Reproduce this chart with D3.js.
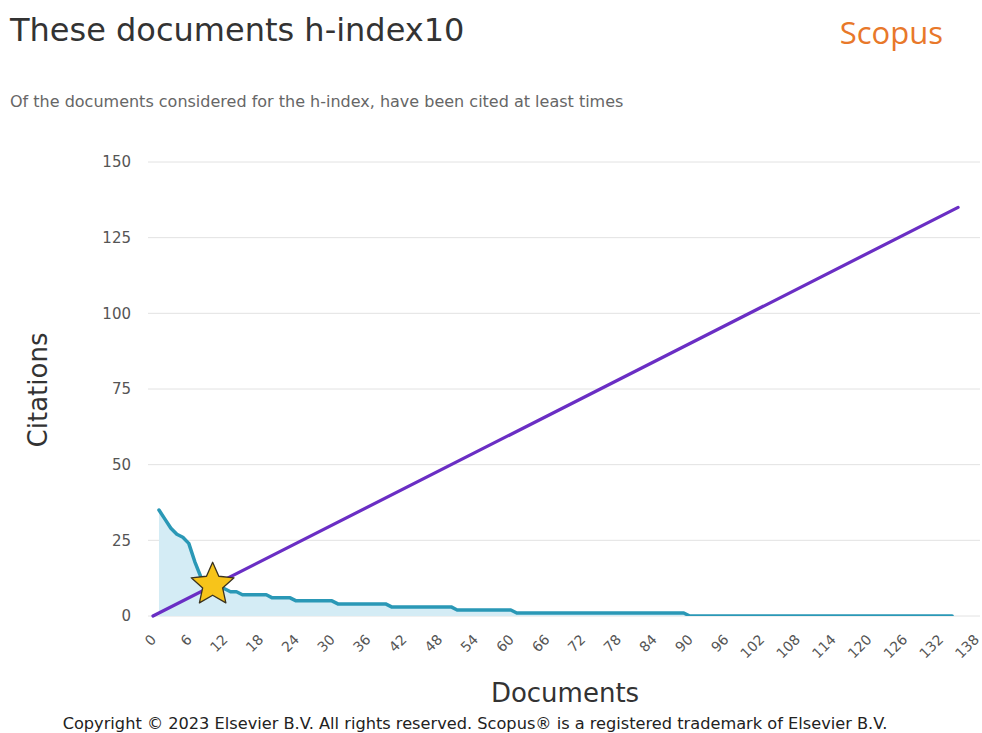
<!DOCTYPE html>
<html>
<head>
<meta charset="utf-8">
<script src="https://cdn.jsdelivr.net/npm/d3@7"></script>
<style>
  html, body { margin: 0; padding: 0; background: #fff; }
  svg { display: block; }
</style>
</head>
<body>
<svg id="chart" width="982" height="733"></svg>
<script>
// ---- data ----
const title = "These documents h-index10";
const subtitle = "Of the documents considered for the h-index, have been cited at least times";
const brand = "Scopus";
const copyright = "Copyright \u00A9 2023 Elsevier B.V. All rights reserved. Scopus\u00AE is a registered trademark of Elsevier B.V.";
const xLabel = "Documents";
const yLabel = "Citations";
const yTicks = [0, 25, 50, 75, 100, 125, 150];
const xTicks = [0, 6, 12, 18, 24, 30, 36, 42, 48, 54, 60, 66, 72, 78, 84, 90, 96, 102, 108, 114, 120, 126, 132, 138];
// citations per document, sorted (document 1..134)
const citations = [
  35, 32, 29, 27, 26, 24, 18, 13, 11, 10,
  9, 9, 8, 8, 7, 7, 7, 7, 7, 6,
  6, 6, 6, 5, 5, 5, 5, 5, 5, 5,
  4, 4, 4, 4, 4, 4, 4, 4, 4, 3,
  3, 3, 3, 3, 3, 3, 3, 3, 3, 3,
  2, 2, 2, 2, 2, 2, 2, 2, 2, 2,
  1, 1, 1, 1, 1, 1, 1, 1, 1, 1,
  1, 1, 1, 1, 1, 1, 1, 1, 1, 1,
  1, 1, 1, 1, 1, 1, 1, 1, 1, 0,
  0, 0, 0, 0, 0, 0, 0, 0, 0, 0,
  0, 0, 0, 0, 0, 0, 0, 0, 0, 0,
  0, 0, 0, 0, 0, 0, 0, 0, 0, 0,
  0, 0, 0, 0, 0, 0, 0, 0, 0, 0,
  0, 0, 0, 0
];
const hLineEnds = [[0, 0], [135, 135]];
const hIndex = [10, 10];

// ---- layout ----
const svg = d3.select("#chart");
const x = d3.scaleLinear().domain([0, 138]).range([153, 976]);
const y = d3.scaleLinear().domain([0, 150]).range([616, 162]);
const font = "'DejaVu Sans', sans-serif";

// title
svg.append("text").attr("x", 10).attr("y", 41)
  .attr("font-family", font).attr("font-size", 32).attr("fill", "#333")
  .text(title);
svg.append("text").attr("x", 943).attr("y", 44).attr("text-anchor", "end")
  .attr("font-family", "'Open Sans', sans-serif").attr("font-size", 31).attr("fill", "#e8782a")
  .text(brand);
svg.append("text").attr("x", 10).attr("y", 107)
  .attr("font-family", font).attr("font-size", 16).attr("fill", "#666")
  .text(subtitle);

// grid
svg.append("g").selectAll("line").data(yTicks).join("line")
  .attr("x1", 148).attr("x2", 980)
  .attr("y1", d => y(d)).attr("y2", d => y(d))
  .attr("stroke", "#e2e2e2").attr("stroke-width", 1);

// y axis labels
const yAxis = d3.axisLeft(y).tickValues(yTicks).tickSize(0).tickPadding(0);
const gy = svg.append("g").attr("transform", "translate(131,0)").call(yAxis);
gy.select(".domain").remove();
gy.selectAll("text").attr("font-family", font).attr("font-size", 15).attr("fill", "#555");

// x axis labels
const xAxis = d3.axisBottom(x).tickValues(xTicks).tickSize(0).tickPadding(0);
const gx = svg.append("g").attr("transform", "translate(0,637)").call(xAxis);
gx.select(".domain").remove();
gx.selectAll("text")
  .attr("font-family", font).attr("font-size", 14).attr("fill", "#555")
  .attr("text-anchor", "end").attr("dy", "0.35em").attr("y", 0)
  .attr("transform", "rotate(-45)");

// area + line
const pts = citations.map((c, i) => [i + 1, c]);
svg.append("defs").append("clipPath").attr("id", "plotclip")
  .append("rect").attr("x", 140).attr("y", 150).attr("width", 842).attr("height", y(0) - 150);

svg.append("path").datum(pts)
  .attr("d", d3.area().x(d => x(d[0])).y0(y(0)).y1(d => y(d[1])))
  .attr("fill", "#d4ecf5");
svg.append("path").datum(pts)
  .attr("clip-path", "url(#plotclip)")
  .attr("d", d3.line().x(d => x(d[0])).y(d => y(d[1])))
  .attr("fill", "none").attr("stroke", "#2a98b6").attr("stroke-width", 3.5)
  .attr("stroke-linejoin", "round").attr("stroke-linecap", "round");

// h-index diagonal
svg.append("path").datum(hLineEnds)
  .attr("d", d3.line().x(d => x(d[0])).y(d => y(d[1])))
  .attr("stroke", "#6a2ec4").attr("stroke-width", 3.2).attr("stroke-linecap", "round");

// star
function starPath(R, r) {
  const p = [];
  for (let i = 0; i < 10; i++) {
    const a = -Math.PI / 2 + i * Math.PI / 5;
    const rad = i % 2 === 0 ? R : r;
    p.push([rad * Math.cos(a), rad * Math.sin(a)]);
  }
  return "M" + p.map(q => q.join(",")).join("L") + "Z";
}
svg.append("path")
  .attr("d", starPath(22.5, 10.5))
  .attr("transform", `translate(${x(hIndex[0])},${y(hIndex[1]) - 1})`)
  .attr("fill", "#f7c41a").attr("stroke", "#3a3320").attr("stroke-width", 1.3)
  .attr("stroke-linejoin", "round");

// axis titles
svg.append("text").attr("transform", `translate(47,390) rotate(-90)`)
  .attr("text-anchor", "middle").attr("font-family", font).attr("font-size", 26).attr("fill", "#333")
  .text(yLabel);
svg.append("text").attr("x", 565).attr("y", 702).attr("text-anchor", "middle")
  .attr("font-family", font).attr("font-size", 26).attr("fill", "#333")
  .text(xLabel);

// footer
svg.append("text").attr("x", 475).attr("y", 729).attr("text-anchor", "middle")
  .attr("font-family", font).attr("font-size", 16.2).attr("fill", "#222")
  .text(copyright);
</script>
</body>
</html>
